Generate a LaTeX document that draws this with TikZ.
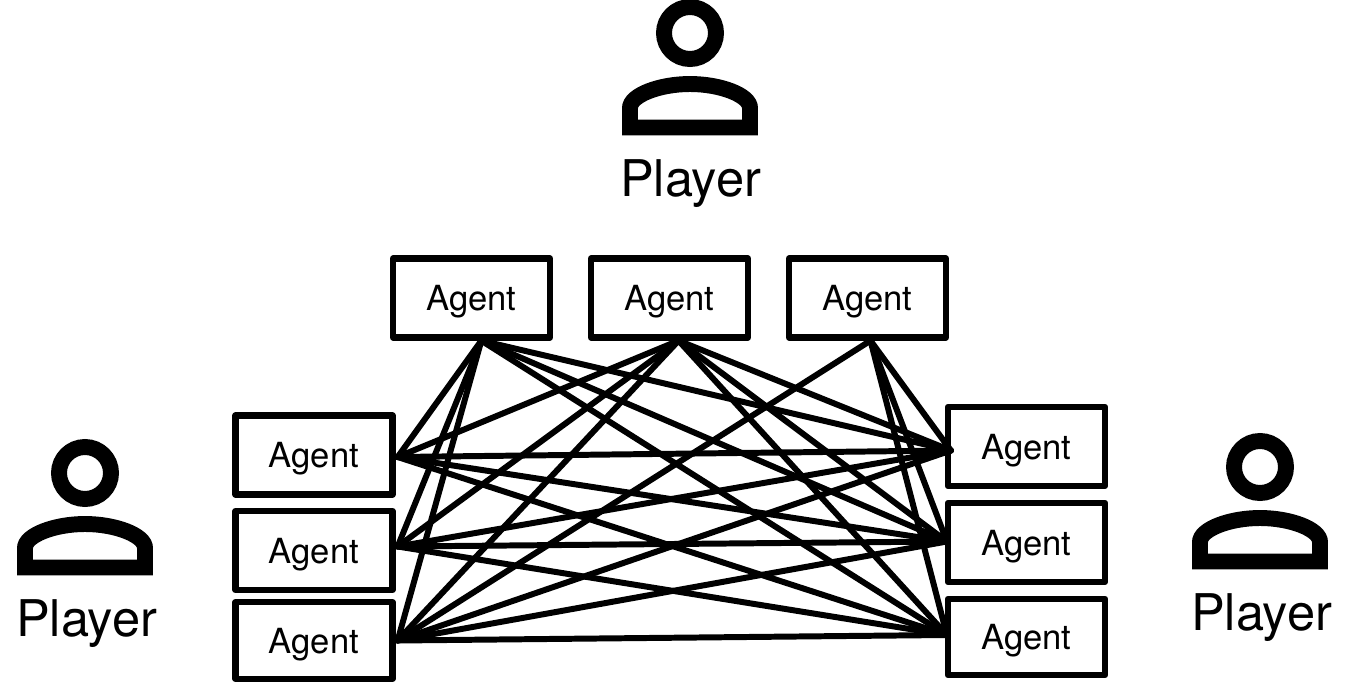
\documentclass[tikz,border=0pt]{standalone}
\usepackage{fontspec}
\setmainfont{TeX Gyre Heros}
\usetikzlibrary{calc,positioning}
\tikzset{
  agent/.style={draw, line width=3.6pt, line join=round, minimum width=3.14cm, minimum height=1.58cm, inner sep=0pt, text height=14.6pt, text depth=0pt, font=\fontsize{19.7}{23}\selectfont},
  player/.style={inner sep=0pt, text depth=0pt, font=\fontsize{28.8}{33}\selectfont},
  link/.style={line width=3.4pt, line cap=round},
  pics/personicon/.style={code={
    \draw[line width=9.07pt] (0,0) circle (26);
    \draw[line width=9.07pt] (-60,94.5) -- (-60,75) .. controls (-60,62) and (-30,51) .. (0,51) .. controls (30,51) and (60,62) .. (60,75) -- (60,94.5) -- cycle;
  }}
}
\begin{document}
\begin{tikzpicture}[x=.02cm,y=-.02cm]
  \useasboundingbox (0,0) rectangle (1350,683);
  % players
  \pic at (690,33) {personicon};
  \pic at (85,473) {personicon};
  \pic at (1260,467) {personicon};
  \node[player] (ptop) at (690.5,178) {Player};
  \node[player] (pleft) at (86.5,618) {Player};
  \node[player] (pright) at (1261.5,612) {Player};
  % agents
  \node[agent] (top1) at (471.5,298) {Agent};
  \node[agent] (top2) at (669.5,298) {Agent};
  \node[agent] (top3) at (867.5,298) {Agent};
  \node[agent] (left1) at (314,455) {Agent};
  \node[agent] (left2) at (314,550.5) {Agent};
  \node[agent, minimum height=1.53cm] (left3) at (314,640.5) {Agent};
  \node[agent] (right1) at (1026.5,446.5) {Agent};
  \node[agent] (right2) at (1026.5,542.5) {Agent};
  \node[agent, minimum height=1.53cm] (right3) at (1026.5,637) {Agent};
  % ends of the links
  \coordinate (l1) at ($(left1.east)+(2,2)$);
  \coordinate (l2) at ($(left2.east)+(2,-4)$);
  \coordinate (l3) at ($(left3.east)+(2,0)$);
  \coordinate (r1) at ($(right1.west)+(6,4)$);
  \coordinate (r2) at ($(right2.west)+(2,-1)$);
  \coordinate (r3) at ($(right3.west)+(2,-2)$);
  % links
  \foreach \t/\a in {top1/-77,top2/-78}{
    \foreach \e in {l1,l2,l3,r1,r2,r3}
      \draw[link] (\t.\a) -- (\e);
  }
  \foreach \e in {l3,r1,r2,r3}
    \draw[link] (top3.-86) -- (\e);
  \foreach \l in {l1,l2,l3}{
    \foreach \e in {r1,r2,r3}
      \draw[link] (\l) -- (\e);
  }
\end{tikzpicture}
\end{document}
